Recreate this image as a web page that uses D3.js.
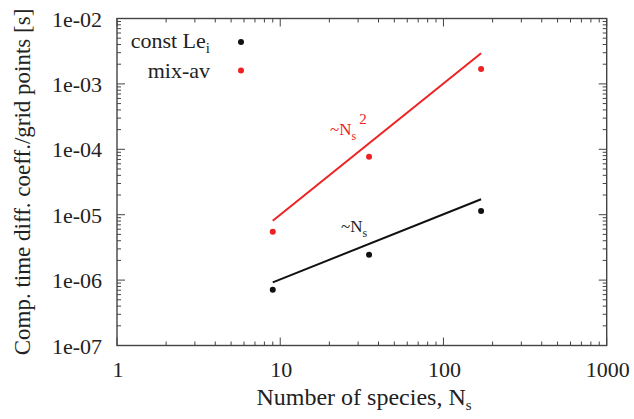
<!DOCTYPE html>
<html><head><meta charset="utf-8">
<script src="https://cdn.jsdelivr.net/npm/d3@7"></script>
<style>body{margin:0;background:#fff}svg{display:block}text{font-family:"Liberation Serif","Times New Roman",serif;fill:#222}</style>
</head><body><svg id="c" width="634" height="419"></svg>
<script>
// data
const speciesN = [9, 35, 170];
const constLe = [7.1e-7, 2.45e-6, 1.14e-5];
const mixAv = [5.5e-6, 7.7e-5, 1.69e-3];
const fitN = [9, 170];
const fitConst = [9.25e-7, 1.72e-5];
const fitMix = [8.1e-6, 2.94e-3];
const xTicks = [1, 10, 100, 1000];
const yTicks = [1e-7, 1e-6, 1e-5, 1e-4, 1e-3, 1e-2];
const yTickLabels = ["1e-07", "1e-06", "1e-05", "1e-04", "1e-03", "1e-02"];

const svg = d3.select("#c");
const L = 117, R = 606.7, T = 18.5, B = 345.5;
const x = d3.scaleLog().domain([1, 1000]).range([L, R]);
const y = d3.scaleLog().domain([1e-7, 1e-2]).range([B, T]);
const axisCol = "#444", red = "#ee2222", blk = "#111";

// minor ticks
const minorX = [], minorY = [];
for (let d = 1; d < 1000; d *= 10) for (let k = 2; k <= 9; k++) minorX.push(d * k);
for (let d = 1e-7; d < 1e-2 * 0.99; d *= 10) for (let k = 2; k <= 9; k++) minorY.push(d * k);

const g = svg.append("g").attr("stroke", axisCol).attr("stroke-width", 1);
xTicks.forEach(v => {
  g.append("line").attr("x1", x(v)).attr("x2", x(v)).attr("y1", B).attr("y2", B - 8);
  g.append("line").attr("x1", x(v)).attr("x2", x(v)).attr("y1", T).attr("y2", T + 8);
});
minorX.forEach(v => {
  g.append("line").attr("x1", x(v)).attr("x2", x(v)).attr("y1", B).attr("y2", B - 4);
  g.append("line").attr("x1", x(v)).attr("x2", x(v)).attr("y1", T).attr("y2", T + 4);
});
yTicks.forEach(v => {
  g.append("line").attr("y1", y(v)).attr("y2", y(v)).attr("x1", L).attr("x2", L + 8);
  g.append("line").attr("y1", y(v)).attr("y2", y(v)).attr("x1", R).attr("x2", R - 8);
});
minorY.forEach(v => {
  g.append("line").attr("y1", y(v)).attr("y2", y(v)).attr("x1", L).attr("x2", L + 4);
  g.append("line").attr("y1", y(v)).attr("y2", y(v)).attr("x1", R).attr("x2", R - 4);
});
svg.append("rect").attr("x", L).attr("y", T).attr("width", R - L).attr("height", B - T)
  .attr("fill", "none").attr("stroke", axisCol).attr("stroke-width", 1.4);

// tick labels
xTicks.forEach(v => svg.append("text").attr("x", x(v) + 1).attr("y", 377)
  .attr("text-anchor", "middle").attr("font-size", 22).text(v));
yTicks.forEach((v, i) => svg.append("text").attr("x", 102).attr("y", y(v) + 8)
  .attr("text-anchor", "end").attr("font-size", 22).text(yTickLabels[i]));

// axis titles
const xt = svg.append("text").attr("x", 364).attr("y", 405).attr("text-anchor", "middle").attr("font-size", 24);
xt.append("tspan").text("Number of species, N");
xt.append("tspan").attr("font-size", 15).attr("dy", 5).text("s");
svg.append("text").attr("transform", "translate(30,182) rotate(-90)").attr("text-anchor", "middle")
  .attr("font-size", 23).text("Comp. time diff. coeff./grid points [s]");

// fit lines
const line = d3.line().x(d => x(d[0])).y(d => y(d[1]));
svg.append("path").attr("d", line(fitN.map((n, i) => [n, fitMix[i]]))).attr("fill", "none").attr("stroke", red).attr("stroke-width", 2);
svg.append("path").attr("d", line(fitN.map((n, i) => [n, fitConst[i]]))).attr("fill", "none").attr("stroke", blk).attr("stroke-width", 2);

// points
svg.selectAll(".pm").data(speciesN).enter().append("circle").attr("cx", d => x(d)).attr("cy", (d, i) => y(mixAv[i])).attr("r", 3).attr("fill", red);
svg.selectAll(".pc").data(speciesN).enter().append("circle").attr("cx", d => x(d)).attr("cy", (d, i) => y(constLe[i])).attr("r", 3).attr("fill", blk);

// annotations
const a1 = svg.append("text").attr("x", 330).attr("y", 135).attr("font-size", 17).style("fill", red);
a1.append("tspan").text("~N");
a1.append("tspan").attr("font-size", 12).attr("dy", 5).text("s");
a1.append("tspan").attr("font-size", 15).attr("dy", -16).attr("dx", 3).text("2");
const a2 = svg.append("text").attr("x", 341).attr("y", 232).attr("font-size", 17).style("fill", "#222");
a2.append("tspan").text("~N");
a2.append("tspan").attr("font-size", 12).attr("dy", 5).text("s");

// legend
const l1 = svg.append("text").attr("x", 210).attr("y", 48).attr("text-anchor", "end").attr("font-size", 22);
l1.append("tspan").text("const Le");
l1.append("tspan").attr("font-size", 15).attr("dy", 5).text("i");
svg.append("circle").attr("cx", 241).attr("cy", 42).attr("r", 3).attr("fill", blk);
svg.append("text").attr("x", 210).attr("y", 78).attr("text-anchor", "end").attr("font-size", 22).text("mix-av");
svg.append("circle").attr("cx", 241).attr("cy", 70.5).attr("r", 3).attr("fill", red);
</script></body></html>
